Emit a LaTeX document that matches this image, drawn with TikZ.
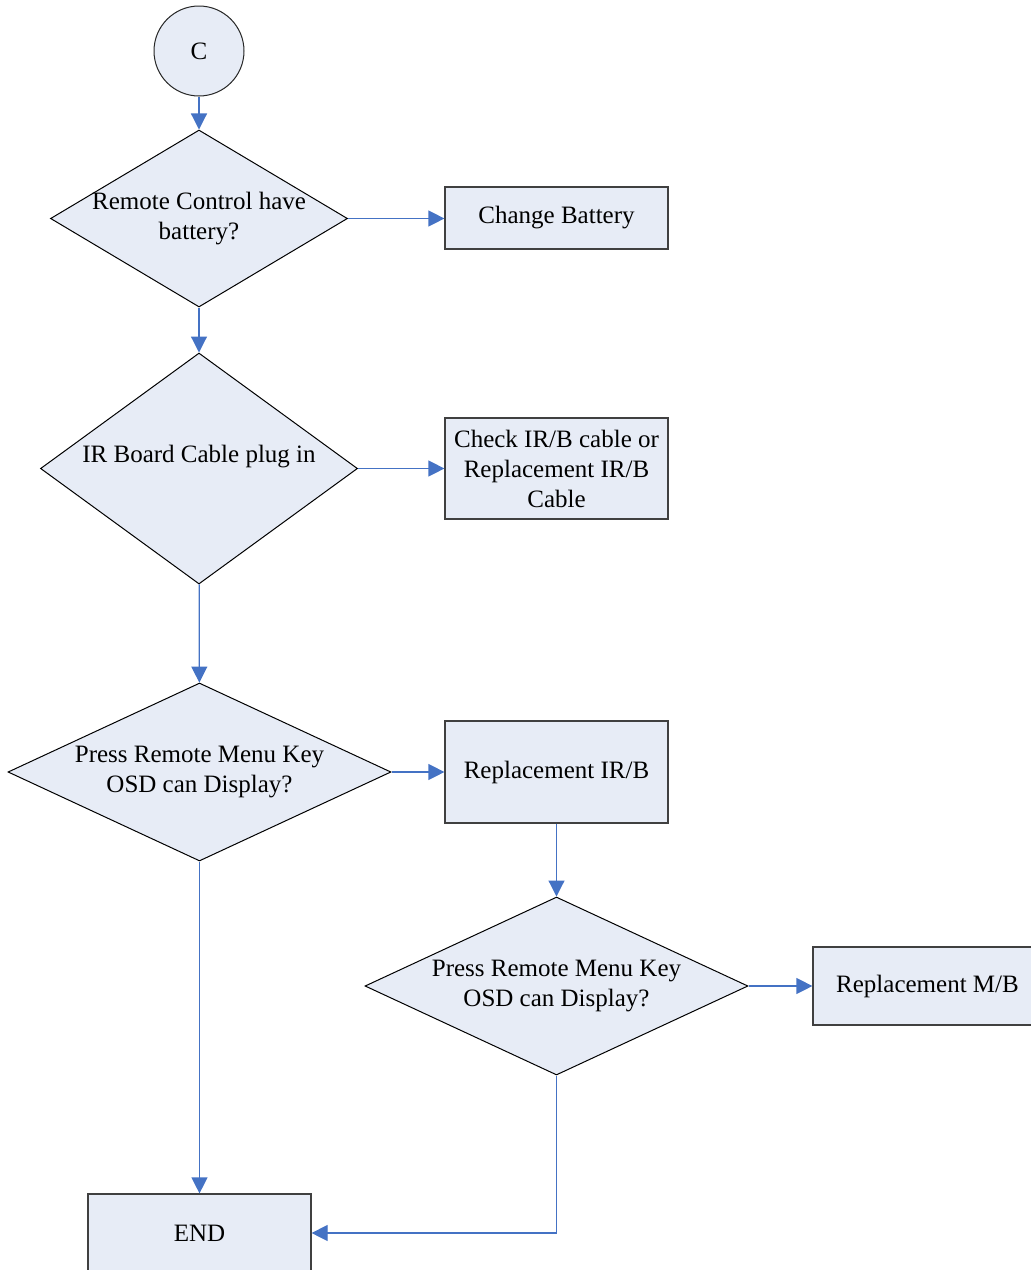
\documentclass[tikz,border=0pt]{standalone}
\usepackage{fontspec}
\setmainfont{Liberation Serif}
\usetikzlibrary{arrows.meta,shapes.geometric}
\definecolor{cFill}{HTML}{E7ECF6}
\definecolor{cLine}{HTML}{4472C4}
\definecolor{cEdge}{HTML}{404040}
\tikzset{
  arrow/.style  ={-{Triangle[length=8pt,width=8pt]}, line width=0.6pt, draw=cLine},
  decide/.style ={draw=black, diamond, fill=cFill, line width=0.5pt, inner xsep=-15pt, inner ysep=0pt, align=center},
  stepbox/.style={draw=cEdge, rectangle, fill=cFill, line width=0.6pt, inner xsep=3pt, align=center},
  conn/.style   ={draw=black!85, circle, fill=cFill, line width=0.5pt, inner sep=0pt},
}

\begin{document}
\begin{tikzpicture}[x=0.5pt, y=-0.5pt, font=\fontsize{12.5}{15}\selectfont]
  \useasboundingbox (0,0) rectangle (1031,1270);
  % main column
  \node[conn, minimum size=45pt] (start) at (199,51) {C};
  \node[decide, aspect=1.68, minimum width=148.5pt, minimum height=88.5pt] (qBatt) at (199,218.5) {Remote Control have\\battery?};
  \node[decide, aspect=1.37, minimum width=158.5pt, minimum height=115.5pt] (qCable) at (199,468.5) {IR Board Cable plug in\\~};
  \node[decide, aspect=2.15, minimum width=191.5pt, minimum height=89pt] (qOsdA) at (199.5,772) {Press Remote Menu Key\\OSD can Display?};
  \node[stepbox, minimum width=111.5pt, minimum height=39pt] (stop) at (199.5,1233) {END};
  % actions
  \node[stepbox, minimum width=111.5pt, minimum height=31pt] (aBatt) at (556.5,218) {Change Battery};
  \node[stepbox, minimum width=111.5pt, minimum height=50.5pt] (aCable) at (556.5,468.5) {Check IR/B cable or\\Replacement IR/B\\Cable};
  \node[stepbox, minimum width=111.5pt, minimum height=51pt] (aIrb) at (556.5,772) {Replacement IR/B};
  \node[decide, aspect=2.15, minimum width=191.5pt, minimum height=89pt] (qOsdB) at (556.5,986) {Press Remote Menu Key\\OSD can Display?};
  \node[stepbox, minimum width=114.5pt, minimum height=39pt] (aMb) at (927.5,986) {Replacement M/B};

  \draw[arrow] (start) -- (qBatt);
  \draw[arrow] (qBatt) -- (qCable);
  \draw[arrow] (qCable) -- (qOsdA);
  \draw[arrow] (qOsdA) -- (stop);
  \draw[arrow] (qBatt.east) -- (qBatt.east -| aBatt.west);
  \draw[arrow] (qCable.east) -- (qCable.east -| aCable.west);
  \draw[arrow] (qOsdA.east) -- (qOsdA.east -| aIrb.west);
  \draw[arrow] (aIrb) -- (qOsdB);
  \draw[arrow] (qOsdB) -- (aMb);
  \draw[arrow] (qOsdB.south) |- (stop.east);
\end{tikzpicture}
\end{document}
